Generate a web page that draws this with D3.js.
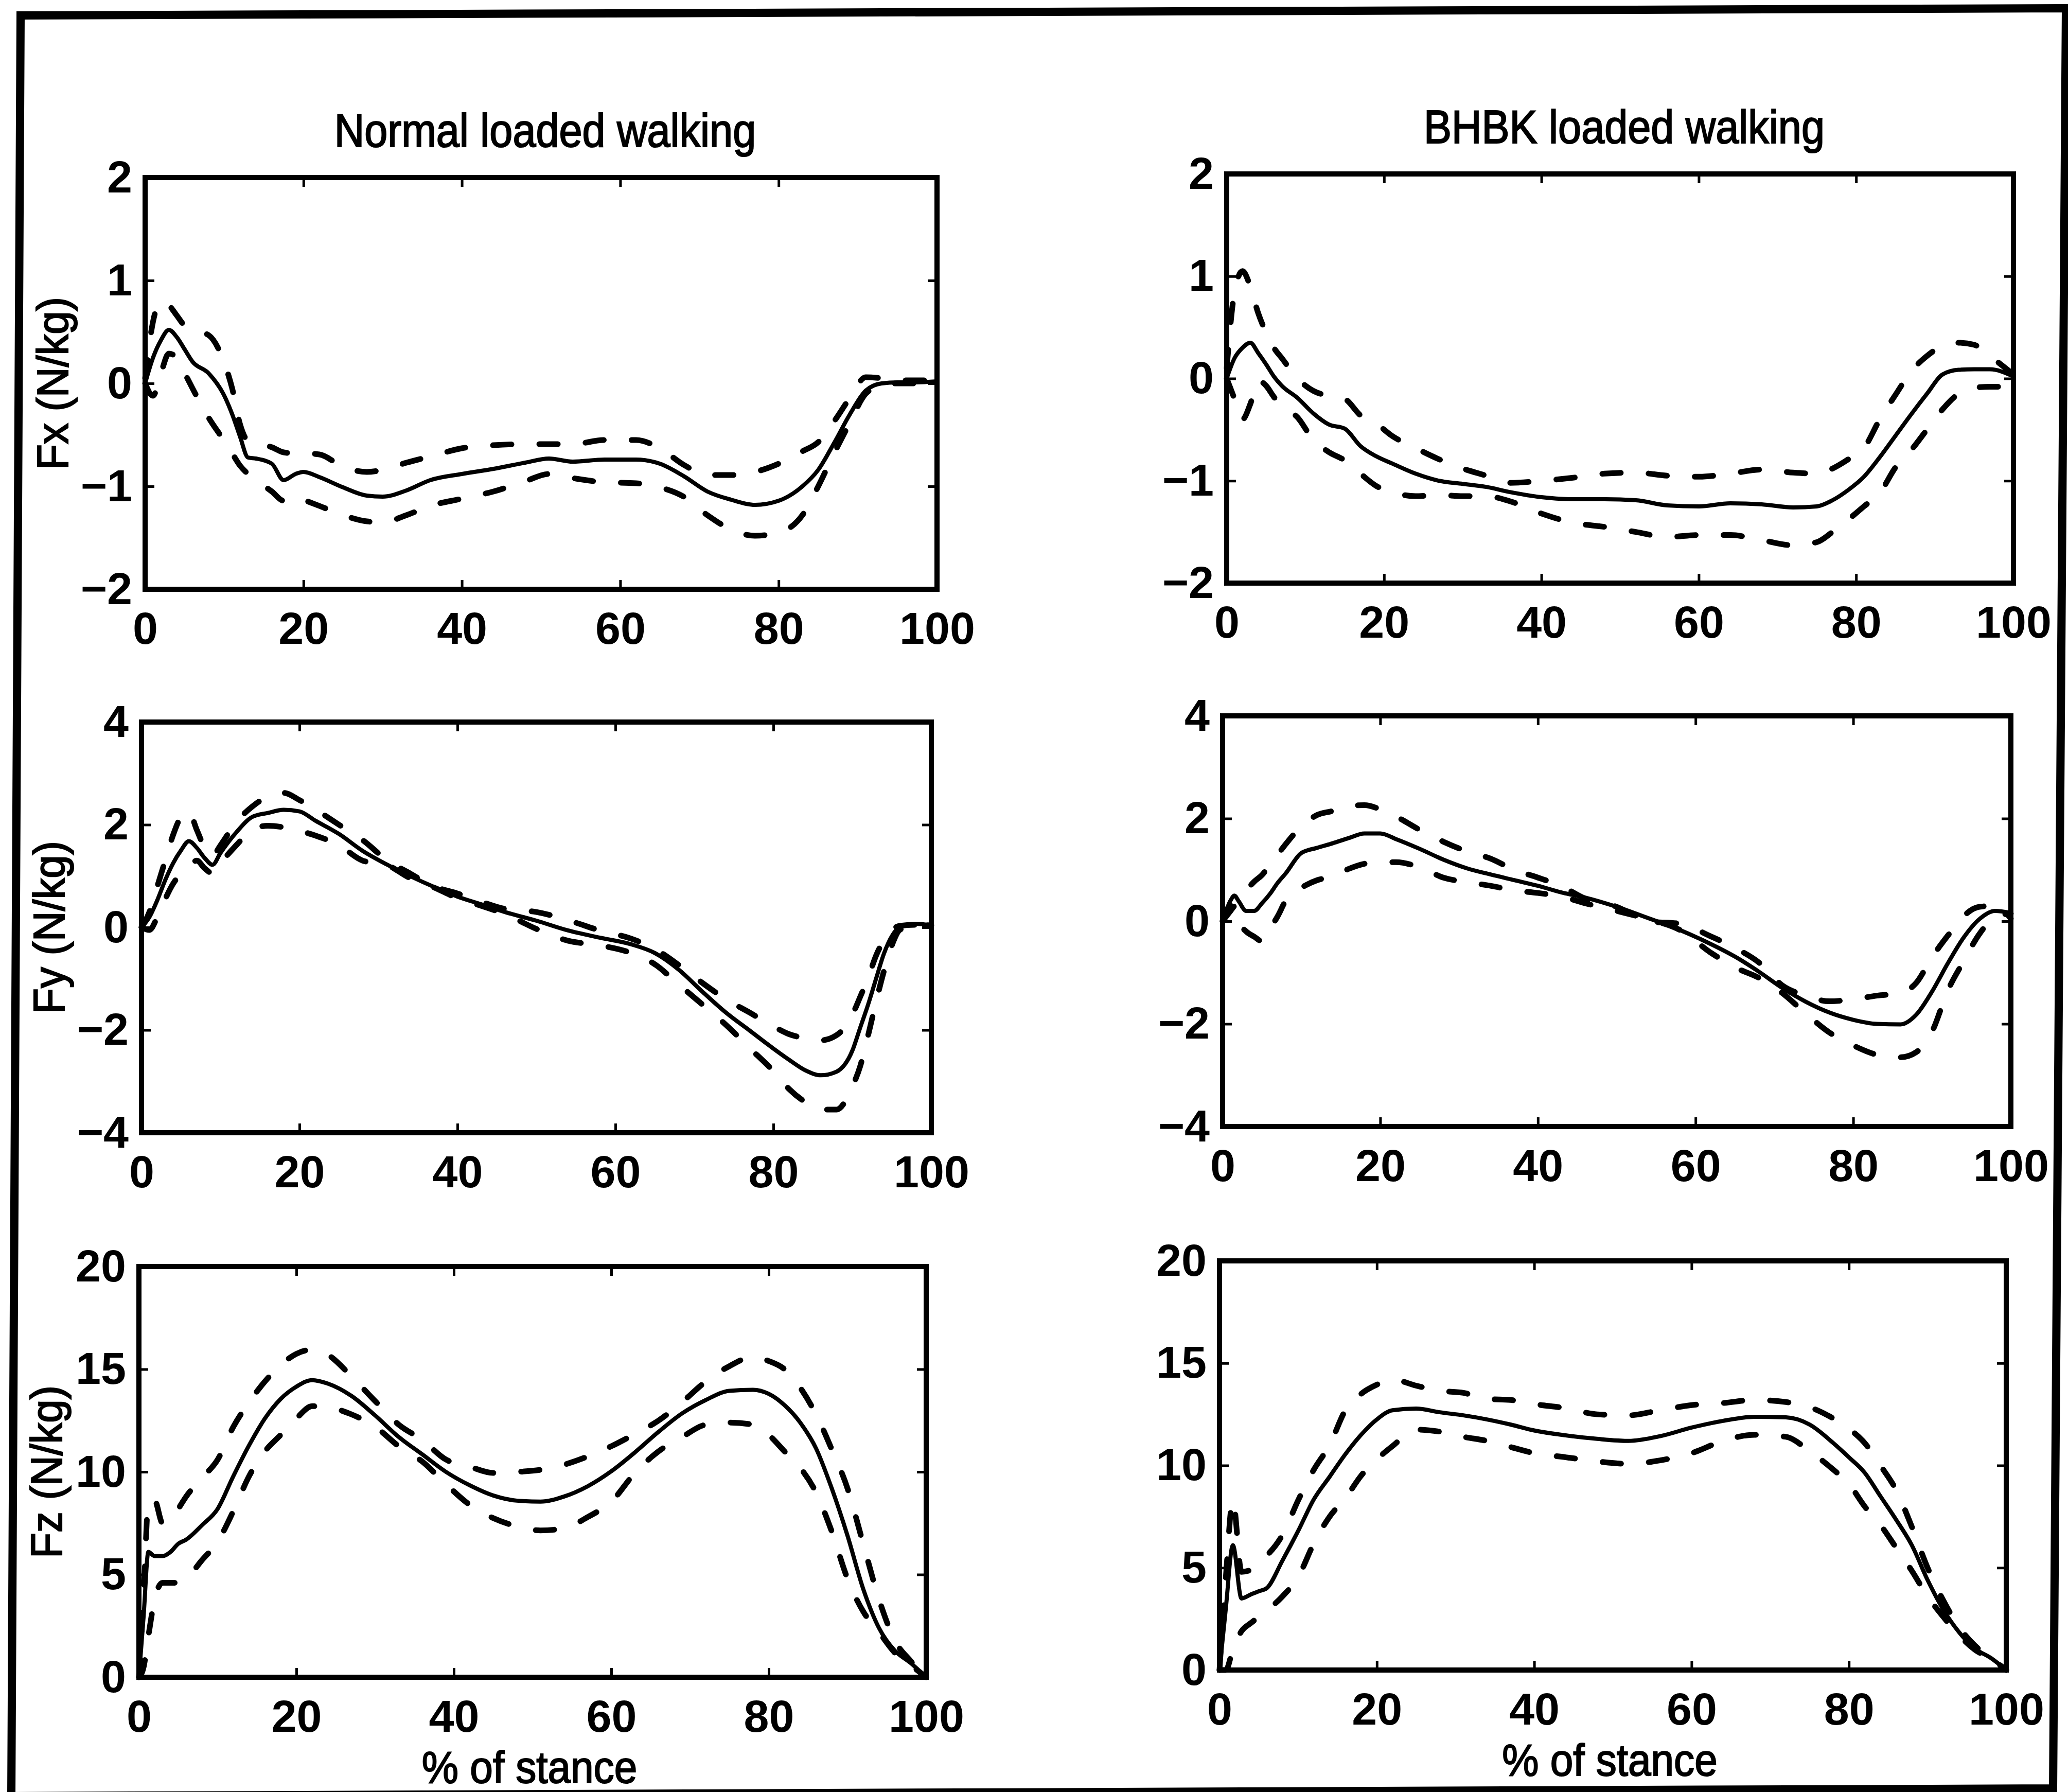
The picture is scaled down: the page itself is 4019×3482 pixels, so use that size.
<!DOCTYPE html>
<html>
<head>
<meta charset="utf-8">
<script src="https://cdn.jsdelivr.net/npm/d3@7"></script>
<style>
  html, body { margin: 0; padding: 0; background: #fff; }
  svg { display: block; }
</style>
</head>
<body>
<svg id="chart" width="4019" height="3482"></svg>
<script>
// ---------- Text ----------
const columnTitles = ["Normal loaded walking", "BHBK loaded walking"];
const rowLabels = ["Fx (N/kg)", "Fy (N/kg)", "Fz (N/kg)"];
const xLabel = "% of stance";

// ---------- Tick values ----------
const xTicks = [0, 20, 40, 60, 80, 100];
const fxTicks = [-2, -1, 0, 1, 2];
const fyTicks = [-4, -2, 0, 2, 4];
const fzTicks = [0, 5, 10, 15, 20];

// ---------- Fx, normal loaded walking (mean, mean+SD, mean-SD) ----------
const stanceFxNormal = [0,1,2,3,4,5,6,8,10,11,12,13,14,16,17.5,19,20,22,25,28,30,33,36,40,44,48,51,54,58,62,65,68,71,74,77,80,83,85,87,89,91,93,95,97,100];
const fxNormalMean  = [0,0.25,0.42,0.52,0.45,0.33,0.21,0.1,-0.12,-0.3,-0.52,-0.72,-0.73,-0.78,-0.94,-0.88,-0.86,-0.91,-1.01,-1.09,-1.1,-1.04,-0.94,-0.88,-0.83,-0.77,-0.73,-0.76,-0.74,-0.74,-0.78,-0.9,-1.05,-1.13,-1.18,-1.14,-1.0,-0.84,-0.58,-0.3,-0.07,0.0,0.01,0.01,0.02];
const fxNormalUpper = [0.05,0.6,0.8,0.76,0.66,0.56,0.52,0.47,0.2,-0.05,-0.4,-0.56,-0.58,-0.62,-0.67,-0.68,-0.68,-0.69,-0.81,-0.86,-0.84,-0.77,-0.71,-0.63,-0.6,-0.59,-0.59,-0.59,-0.55,-0.55,-0.63,-0.79,-0.89,-0.89,-0.86,-0.78,-0.66,-0.57,-0.37,-0.14,0.06,0.05,0.03,0.03,0.03];
const fxNormalLower = [0,-0.12,0.1,0.29,0.25,0.1,-0.05,-0.33,-0.56,-0.68,-0.8,-0.88,-0.94,-1.05,-1.14,-1.1,-1.13,-1.19,-1.28,-1.34,-1.35,-1.28,-1.19,-1.12,-1.05,-0.95,-0.88,-0.92,-0.96,-0.97,-1.01,-1.1,-1.28,-1.42,-1.48,-1.45,-1.28,-1.0,-0.68,-0.38,-0.1,-0.02,0,0,0];

// ---------- Fx, BHBK loaded walking ----------
const stanceFxBhbk = [0,1,2,3,4,5,6,7,9,11,13,15,17,19,21,24,27,30,33,36,40,44,48,52,56,60,64,68,72,75,77,79,81,83,85,87,89,91,93,95,97,100];
const fxBhbkMean  = [0,0.2,0.3,0.35,0.25,0.14,0.02,-0.07,-0.19,-0.34,-0.45,-0.49,-0.66,-0.76,-0.83,-0.93,-1.0,-1.03,-1.06,-1.11,-1.16,-1.18,-1.18,-1.19,-1.24,-1.25,-1.22,-1.23,-1.26,-1.25,-1.19,-1.09,-0.96,-0.77,-0.56,-0.35,-0.15,0.04,0.085,0.09,0.09,0.02];
const fxBhbkUpper = [0.1,0.85,1.05,0.9,0.64,0.45,0.3,0.2,0.0,-0.12,-0.17,-0.2,-0.36,-0.44,-0.56,-0.68,-0.79,-0.88,-0.95,-1.02,-1.0,-0.97,-0.93,-0.92,-0.95,-0.96,-0.93,-0.89,-0.92,-0.93,-0.88,-0.79,-0.68,-0.4,-0.16,0.07,0.22,0.32,0.35,0.33,0.22,0.04];
const fxBhbkLower = [0,-0.2,-0.4,-0.25,-0.02,-0.07,-0.18,-0.27,-0.38,-0.6,-0.72,-0.8,-0.93,-1.05,-1.11,-1.15,-1.14,-1.15,-1.15,-1.2,-1.32,-1.41,-1.45,-1.5,-1.55,-1.53,-1.53,-1.58,-1.63,-1.6,-1.5,-1.38,-1.25,-1.12,-0.87,-0.7,-0.5,-0.3,-0.15,-0.09,-0.08,-0.08];

// ---------- Fy, normal loaded walking ----------
const stanceFyNormal = [0,1,2,3,4,5,6,7,8,9,10,12,14,16,18,20,22,25,28,31,34,37,40,43,46,50,54,58,62,65,68,71,74,77,80,82,84,86,88,90,91,92,93,94,95,96,98,100];
const fyNormalMean  = [0,0.2,0.53,0.92,1.25,1.5,1.68,1.55,1.35,1.22,1.45,1.85,2.15,2.23,2.29,2.26,2.08,1.82,1.49,1.23,1.0,0.79,0.6,0.45,0.3,0.13,-0.06,-0.2,-0.33,-0.5,-0.82,-1.25,-1.66,-2.01,-2.36,-2.58,-2.78,-2.88,-2.81,-2.4,-1.95,-1.5,-1.0,-0.51,-0.17,0.0,0.07,0.04];
const fyNormalUpper = [0,0.3,0.8,1.3,1.8,2.15,2.25,1.9,1.55,1.4,1.6,2.05,2.35,2.55,2.62,2.48,2.3,2.0,1.7,1.32,1.05,0.8,0.66,0.5,0.36,0.3,0.14,-0.06,-0.22,-0.42,-0.73,-1.08,-1.4,-1.66,-1.93,-2.08,-2.16,-2.2,-2.1,-1.7,-1.35,-0.98,-0.55,-0.25,-0.05,0.03,0.05,0.05];
const fyNormalLower = [0,-0.05,0.2,0.55,0.85,1.05,1.2,1.3,1.15,1.05,1.25,1.6,1.9,1.98,1.95,1.88,1.79,1.6,1.3,1.22,0.96,0.78,0.57,0.42,0.26,-0.03,-0.26,-0.35,-0.5,-0.72,-1.11,-1.5,-1.9,-2.35,-2.8,-3.15,-3.4,-3.55,-3.55,-3.1,-2.7,-2.1,-1.45,-0.85,-0.35,-0.05,0.05,0.04];

// ---------- Fy, BHBK loaded walking ----------
const stanceFyBhbk = [0,1,1.5,2,3,4,5,6,7,8,10,12,14,16,18,20,22,25,28,31,34,37,40,43,46,50,54,58,62,65,68,71,74,77,80,83,86,88,90,92,94,96,98,100];
const fyBhbkMean  = [0,0.4,0.5,0.4,0.2,0.2,0.35,0.53,0.75,0.93,1.33,1.43,1.52,1.62,1.71,1.71,1.6,1.41,1.2,1.03,0.91,0.8,0.69,0.56,0.46,0.28,0.06,-0.17,-0.45,-0.69,-0.98,-1.3,-1.57,-1.78,-1.92,-2.0,-2.01,-1.82,-1.37,-0.82,-0.32,0.04,0.2,0.16];
const fyBhbkUpper = [0,0.2,0.3,0.4,0.6,0.77,0.9,1.1,1.3,1.5,1.85,2.07,2.15,2.25,2.26,2.18,2.04,1.78,1.55,1.36,1.22,1.0,0.85,0.68,0.44,0.28,0.0,-0.05,-0.3,-0.52,-0.8,-1.25,-1.45,-1.56,-1.52,-1.45,-1.4,-1.2,-0.7,-0.28,0.1,0.28,0.3,0.05];
const fyBhbkLower = [0,0.3,0.25,0.0,-0.2,-0.3,-0.39,-0.15,0.1,0.4,0.65,0.8,0.87,1.02,1.12,1.15,1.15,1.05,0.85,0.76,0.69,0.6,0.55,0.48,0.35,0.2,0.04,-0.17,-0.62,-0.9,-1.1,-1.4,-1.8,-2.17,-2.42,-2.6,-2.65,-2.55,-2.15,-1.35,-0.78,-0.25,0.08,0.15];

// ---------- Fz, normal loaded walking ----------
const stanceFzNormal = [0,0.6,1.2,2,3,4,5,6,8,10,12,14,16,18,20,22,24,27,30,33,36,39,42,45,48,51,54,57,60,63,66,69,72,75,78,80,82,84,86,88,90,92,94,96,98,100];
const fzNormalMean  = [0,3.0,6.1,5.9,5.9,6.1,6.5,6.7,7.4,8.2,9.8,11.3,12.6,13.55,14.15,14.47,14.3,13.7,12.75,11.7,10.85,10.0,9.35,8.85,8.6,8.55,8.8,9.3,10.03,10.95,11.95,12.85,13.5,13.95,14.0,13.8,13.25,12.4,11.15,9.2,6.9,4.3,2.4,1.3,0.7,0];
const fzNormalUpper = [0,4,8.5,8.6,7.5,7.6,8.2,8.8,9.7,10.6,12.2,13.4,14.4,15.2,15.75,15.95,15.7,14.65,13.45,12.3,11.55,10.6,10.25,9.95,10.0,10.1,10.35,10.75,11.25,11.85,12.5,13.4,14.4,15.15,15.6,15.4,15.0,14.1,12.8,11.1,9.2,6.5,3.8,1.8,0.8,0];
const fzNormalLower = [0,0.5,2.0,3.8,4.6,4.6,4.6,4.8,5.7,6.6,8.1,9.8,11.0,11.8,12.6,13.2,13.15,12.8,12.2,11.25,10.5,9.4,8.4,7.75,7.35,7.15,7.25,7.8,8.55,9.95,11.0,11.7,12.3,12.4,12.3,11.8,11.0,10.2,9.0,7.1,4.8,3.2,2.2,1.2,0.6,0];

// ---------- Fz, BHBK loaded walking ----------
const stanceFzBhbk = [0,0.8,1.7,2.8,4,5,6,8,10,12,14,16,18,20,22,25,28,31,34,37,40,44,48,52,56,60,64,68,72,75,78,80,82,84,86,88,90,92,94,96,98,100];
const fzBhbkMean  = [0,3.0,6.1,3.5,3.7,3.85,4.0,5.35,6.8,8.35,9.45,10.55,11.5,12.25,12.7,12.78,12.6,12.45,12.25,12.0,11.71,11.47,11.3,11.2,11.43,11.85,12.18,12.38,12.35,12.0,11.1,10.4,9.65,8.5,7.35,6.1,4.4,2.95,1.85,1.05,0.6,0];
const fzBhbkUpper = [0,4.5,8.3,4.8,4.9,5.3,5.6,6.6,8.3,9.8,11.0,12.7,13.5,13.95,14.2,13.9,13.65,13.55,13.25,13.2,13.0,12.8,12.5,12.45,12.7,12.95,13.05,13.2,13.1,12.85,12.3,11.8,11.1,10.0,8.8,7.0,5.0,3.4,2.1,1.2,0.6,0];
const fzBhbkLower = [0,0.0,1.0,1.9,2.3,2.6,2.9,3.6,4.55,6.2,7.5,8.4,9.5,10.3,10.95,11.75,11.65,11.4,11.2,10.9,10.6,10.4,10.2,10.08,10.25,10.6,11.2,11.5,11.4,10.7,9.8,9.1,8.0,7.1,5.98,4.85,3.6,2.6,1.7,1.0,0.55,0];

// ---------- Panel assembly (row-major: Fx, Fy, Fz; left = normal, right = BHBK) ----------
const panels = [
  { stance: stanceFxNormal, mean: fxNormalMean, upper: fxNormalUpper, lower: fxNormalLower, ticks: fxTicks },
  { stance: stanceFxBhbk,   mean: fxBhbkMean,   upper: fxBhbkUpper,   lower: fxBhbkLower,   ticks: fxTicks },
  { stance: stanceFyNormal, mean: fyNormalMean, upper: fyNormalUpper, lower: fyNormalLower, ticks: fyTicks },
  { stance: stanceFyBhbk,   mean: fyBhbkMean,   upper: fyBhbkUpper,   lower: fyBhbkLower,   ticks: fyTicks },
  { stance: stanceFzNormal, mean: fzNormalMean, upper: fzNormalUpper, lower: fzNormalLower, ticks: fzTicks },
  { stance: stanceFzBhbk,   mean: fzBhbkMean,   upper: fzBhbkUpper,   lower: fzBhbkLower,   ticks: fzTicks }
];

// Plot-area boxes [left, top, right, bottom] in page pixels
const boxes = [
  [282, 345, 1821, 1145], [2384, 338, 3913, 1133],
  [275, 1403, 1810, 2201], [2376, 1391, 3908, 2189],
  [270, 2461, 1800, 3259], [2370, 2450, 3899, 3245]
];

const FONT = "'Liberation Sans', Arial, Helvetica, sans-serif";
const svg = d3.select("#chart");
svg.append("rect").attr("width", 4019).attr("height", 3482).attr("fill", "#fff");

// Figure border
const border = [[40, 30], [4015, 16], [3990, 3475], [22, 3490]];
svg.append("path")
  .attr("d", d3.line()(border) + "Z")
  .attr("fill", "none").attr("stroke", "#000")
  .attr("stroke-width", 16).attr("stroke-linejoin", "miter");

// Horizontally condensed label text
function label(g, txt, x, y, size, sx, rotate, anchor) {
  g.append("text")
    .attr("transform", `translate(${x},${y})` + (rotate ? ` rotate(${rotate})` : "") + ` scale(${sx},1)`)
    .attr("text-anchor", anchor || "middle")
    .attr("font-family", FONT)
    .attr("font-size", size)
    .attr("fill", "#000")
    .attr("stroke", "#000").attr("stroke-width", 2.2)
    .text(txt);
}

const TICK = 18;
const intFormat = d3.format("d");

panels.forEach((p, i) => {
  const [x0, y0, x1, y1] = boxes[i];
  const row = Math.floor(i / 2), col = i % 2;
  const x = d3.scaleLinear().domain([0, 100]).range([x0, x1]);
  const y = d3.scaleLinear().domain(d3.extent(p.ticks)).range([y1, y0]);
  const g = svg.append("g");

  const line = d3.line()
    .x(d => x(d[0])).y(d => y(d[1]))
    .curve(d3.curveMonotoneX);

  // mean +/- SD as dashed, mean as solid
  [["upper", true], ["lower", true], ["mean", false]].forEach(([key, dashed]) => {
    g.append("path")
      .datum(d3.zip(p.stance, p[key]))
      .attr("d", line)
      .attr("fill", "none")
      .attr("stroke", "#000")
      .attr("stroke-width", dashed ? 11 : 8)
      .attr("stroke-linejoin", "round")
      .attr("stroke-linecap", dashed ? "round" : "butt")
      .attr("stroke-dasharray", dashed ? "36 54" : null);
  });

  // Axes with inward ticks on all four sides
  const axes = [
    g.append("g").attr("transform", `translate(0,${y1})`)
      .call(d3.axisBottom(x).tickValues(xTicks).tickFormat(intFormat).tickSize(-TICK).tickSizeOuter(0).tickPadding(44)),
    g.append("g").attr("transform", `translate(0,${y0})`)
      .call(d3.axisTop(x).tickValues(xTicks).tickSize(-TICK).tickSizeOuter(0).tickFormat("")),
    g.append("g").attr("transform", `translate(${x0},0)`)
      .call(d3.axisLeft(y).tickValues(p.ticks).tickFormat(intFormat).tickSize(-TICK).tickSizeOuter(0).tickPadding(25)),
    g.append("g").attr("transform", `translate(${x1},0)`)
      .call(d3.axisRight(y).tickValues(p.ticks).tickSize(-TICK).tickSizeOuter(0).tickFormat(""))
  ];
  axes.forEach(a => {
    a.attr("font-family", FONT).attr("font-size", 88).attr("font-weight", "bold");
    a.select(".domain").remove();
    a.selectAll(".tick line").attr("stroke", "#000").attr("stroke-width", 5);
    a.selectAll(".tick text").attr("fill", "#000");
  });

  // Plot frame
  g.append("rect")
    .attr("x", x0).attr("y", y0)
    .attr("width", x1 - x0).attr("height", y1 - y0)
    .attr("fill", "none").attr("stroke", "#000").attr("stroke-width", 10);

  // Column titles above the top row
  if (row === 0) {
    label(svg, columnTitles[col], (x0 + x1) / 2 + 8, y0 - 60, 90, 0.9);
  }
  // Row labels on the left column
  if (col === 0) {
    label(svg, rowLabels[row], x0 - 150, (y0 + y1) / 2, 86, 0.95, -90);
  }
  // x-axis label under the bottom row
  if (row === 2) {
    label(svg, xLabel, (x0 + x1) / 2 - 6, y1 + 205, 88, 0.91);
  }
});
</script>
</body>
</html>
